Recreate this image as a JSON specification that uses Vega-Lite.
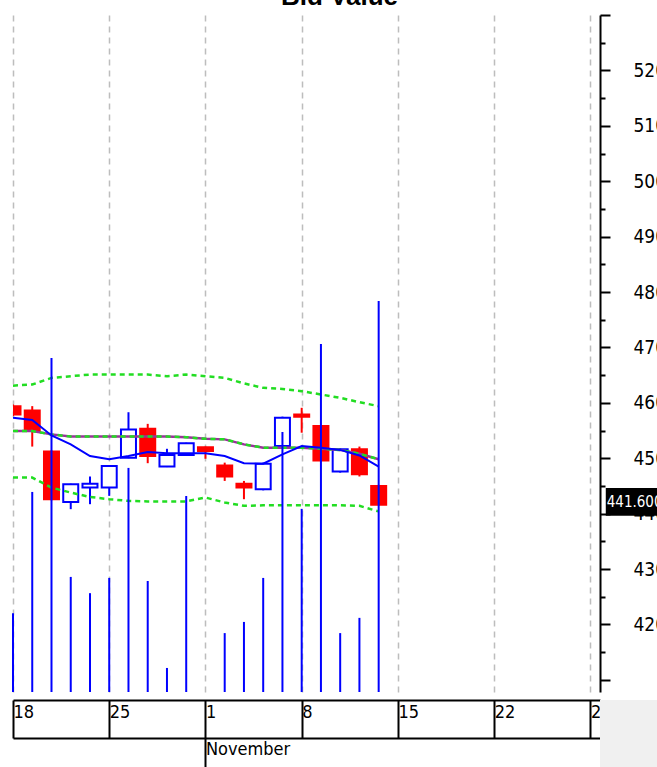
{
  "$schema": "https://vega.github.io/schema/vega-lite/v6.json",
  "autosize": {"type": "none"},
  "padding": {"left": 13, "top": 15, "right": 57, "bottom": 75},
  "width": 587,
  "height": 677,
  "background": "white",
  "title": {"text": "Bid Value", "font": "Liberation Sans", "fontSize": 26, "fontWeight": "bold", "color": "black", "anchor": "middle", "dx": 33, "dy": 25, "offset": 0, "baseline": "alphabetic"},
  "config": {"view": {"stroke": null}},
  "data": {"values": [
    {"t":0,"date":"2010-10-18","open":459.4,"high":459.7,"low":457.6,"close":457.9,"volume":233,"ma":457.3,"mid":454.9,"upper":463.1,"lower":446.5},
    {"t":1,"date":"2010-10-19","open":458.6,"high":459.4,"low":452.1,"close":454.9,"volume":591,"ma":456.9,"mid":454.9,"upper":463.3,"lower":446.5},
    {"t":2,"date":"2010-10-20","open":451.2,"high":451.4,"low":442.4,"close":442.6,"volume":987,"ma":454.1,"mid":454.3,"upper":464.5,"lower":444.7},
    {"t":3,"date":"2010-10-21","open":442.1,"high":445.4,"low":440.8,"close":445.3,"volume":340,"ma":452.5,"mid":453.9,"upper":464.8,"lower":443.8},
    {"t":4,"date":"2010-10-22","open":444.7,"high":446.7,"low":441.7,"close":445.4,"volume":292,"ma":450.4,"mid":453.9,"upper":465.1,"lower":443.0},
    {"t":5,"date":"2010-10-25","open":444.7,"high":448.7,"low":443.2,"close":448.6,"volume":337,"ma":449.8,"mid":453.9,"upper":465.1,"lower":442.6},
    {"t":6,"date":"2010-10-26","open":450.1,"high":458.3,"low":450.0,"close":455.2,"volume":662,"ma":450.4,"mid":453.9,"upper":465.1,"lower":442.3},
    {"t":7,"date":"2010-10-27","open":455.3,"high":456.2,"low":449.1,"close":450.4,"volume":328,"ma":451.1,"mid":453.9,"upper":465.1,"lower":442.2},
    {"t":8,"date":"2010-10-28","open":448.5,"high":451.7,"low":448.4,"close":450.6,"volume":71,"ma":450.9,"mid":453.9,"upper":464.8,"lower":442.2},
    {"t":9,"date":"2010-10-29","open":450.6,"high":452.8,"low":450.4,"close":452.7,"volume":579,"ma":450.9,"mid":453.8,"upper":465.1,"lower":442.2},
    {"t":10,"date":"2010-11-01","open":452.0,"high":452.1,"low":449.9,"close":451.3,"volume":0,"ma":450.9,"mid":453.5,"upper":464.8,"lower":442.9},
    {"t":11,"date":"2010-11-02","open":448.7,"high":449.2,"low":445.9,"close":446.7,"volume":174,"ma":450.4,"mid":453.4,"upper":464.5,"lower":442.0},
    {"t":12,"date":"2010-11-03","open":445.4,"high":445.9,"low":442.6,"close":444.7,"volume":207,"ma":449.1,"mid":452.5,"upper":463.5,"lower":441.4},
    {"t":13,"date":"2010-11-04","open":444.4,"high":449.2,"low":444.2,"close":449.0,"volume":337,"ma":449.0,"mid":451.9,"upper":462.7,"lower":441.5},
    {"t":14,"date":"2010-11-05","open":452.2,"high":457.5,"low":452.0,"close":457.3,"volume":768,"ma":450.7,"mid":451.9,"upper":462.5,"lower":441.5},
    {"t":15,"date":"2010-11-08","open":457.9,"high":459.1,"low":454.6,"close":457.5,"volume":541,"ma":452.2,"mid":451.9,"upper":462.1,"lower":441.5},
    {"t":16,"date":"2010-11-09","open":455.8,"high":456.0,"low":449.4,"close":449.6,"volume":1028,"ma":451.9,"mid":451.7,"upper":461.5,"lower":441.5},
    {"t":17,"date":"2010-11-10","open":447.6,"high":451.8,"low":447.4,"close":451.6,"volume":174,"ma":451.5,"mid":451.5,"upper":460.9,"lower":441.5},
    {"t":18,"date":"2010-11-11","open":451.6,"high":452.1,"low":446.7,"close":447.1,"volume":219,"ma":450.5,"mid":450.8,"upper":460.1,"lower":441.4},
    {"t":19,"date":"2010-11-12","open":445.0,"high":445.2,"low":441.5,"close":441.6,"volume":1155,"ma":448.5,"mid":449.8,"upper":459.4,"lower":440.4}
  ]},
  "layer": [
    {
      "mark": {"type": "rule", "strokeWidth": 2, "clip": true},
      "encoding": {
        "x": {"field": "t", "type": "quantitative",
          "scale": {"domain": [0, 30.5], "nice": false, "zero": false, "padding": 0},
          "axis": {"orient": "bottom", "values": [0, 5, 10, 15, 20, 25, 30],
            "labelExpr": "datum.value == 0 ? '18' : datum.value == 5 ? '25' : datum.value == 10 ? '1' : datum.value == 15 ? '8' : datum.value == 20 ? '15' : datum.value == 25 ? '22' : '29'",
            "title": null, "grid": true, "gridDash": [6, 5], "gridColor": "#bdbdbd", "gridWidth": 1.5,
            "offset": 8, "domain": true, "domainColor": "black", "domainWidth": 2,
            "ticks": true, "tickColor": "black", "tickWidth": 2, "tickSize": 38,
            "labelAlign": "left", "labelBaseline": "top", "labelPadding": -35, "labelDx": 3,
            "labelFlush": false, "labelOverlap": false,
            "labelFont": "DejaVu Sans Condensed, Liberation Sans, sans-serif", "labelFontSize": 18, "labelColor": "black"}},
        "y": {"field": "low", "type": "quantitative",
          "scale": {"domain": [407.8, 530], "nice": false, "zero": false},
          "axis": {"orient": "right", "title": null, "grid": false,
            "values": [410,420,430,440,450,460,470,480,490,500,510,520,530],
            "labelExpr": "(datum.value >= 420 && datum.value <= 520) ? format(datum.value, '.3f') : ''",
            "domainColor": "black", "domainWidth": 2, "tickColor": "black", "tickWidth": 2, "tickSize": 10,
            "labelPadding": 23, "labelAlign": "left", "labelBaseline": "middle", "labelOverlap": false, "labelFlush": false,
            "labelFont": "DejaVu Sans Condensed, Liberation Sans, sans-serif", "labelFontSize": 19, "labelColor": "black"}},
        "y2": {"field": "high"},
        "stroke": {"condition": {"test": "datum.close >= datum.open", "value": "#0000ff"}, "value": "#ff0000"}
      }
    },
    {
      "mark": {"type": "bar", "width": 15, "strokeWidth": 2, "clip": true},
      "encoding": {
        "x": {"field": "t", "type": "quantitative", "axis": null},
        "y": {"field": "open", "type": "quantitative", "scale": {"domain": [407.8, 530], "nice": false, "zero": false},
          "axis": {"orient": "right", "title": null, "grid": false, "domain": false, "labels": false,
            "values": [415,425,435,445,455,465,475,485,495,505,515,525],
            "tickColor": "black", "tickWidth": 2, "tickSize": 5}},
        "y2": {"field": "close"},
        "fill": {"condition": {"test": "datum.close >= datum.open", "value": "#ffffff"}, "value": "#ff0000"},
        "stroke": {"condition": {"test": "datum.close >= datum.open", "value": "#0000ff"}, "value": "#ff0000"}
      }
    },
    {
      "mark": {"type": "line", "stroke": "#22dd22", "strokeWidth": 2.5, "strokeDash": [5, 4], "clip": true},
      "encoding": {
        "x": {"field": "t", "type": "quantitative", "axis": null},
        "y": {"field": "lower", "type": "quantitative", "scale": {"domain": [407.8, 530], "nice": false, "zero": false}, "axis": null}
      }
    },
    {
      "mark": {"type": "line", "stroke": "#22dd22", "strokeWidth": 2.5, "strokeDash": [5, 4], "clip": true},
      "encoding": {
        "x": {"field": "t", "type": "quantitative", "axis": null},
        "y": {"field": "upper", "type": "quantitative", "scale": {"domain": [407.8, 530], "nice": false, "zero": false}, "axis": null}
      }
    },
    {
      "mark": {"type": "line", "stroke": "#993399", "strokeWidth": 2.5, "clip": true},
      "encoding": {
        "x": {"field": "t", "type": "quantitative", "axis": null},
        "y": {"field": "mid", "type": "quantitative", "scale": {"domain": [407.8, 530], "nice": false, "zero": false}, "axis": null}
      }
    },
    {
      "mark": {"type": "line", "stroke": "#22dd22", "strokeWidth": 2.5, "strokeDash": [5, 4], "clip": true},
      "encoding": {
        "x": {"field": "t", "type": "quantitative", "axis": null},
        "y": {"field": "mid", "type": "quantitative", "scale": {"domain": [407.8, 530], "nice": false, "zero": false}, "axis": null}
      }
    },
    {
      "mark": {"type": "line", "stroke": "#0000ff", "strokeWidth": 2, "clip": true},
      "encoding": {
        "x": {"field": "t", "type": "quantitative", "axis": null},
        "y": {"field": "ma", "type": "quantitative", "scale": {"domain": [407.8, 530], "nice": false, "zero": false}, "axis": null}
      }
    },
    {
      "mark": {"type": "rule", "stroke": "#0000ff", "strokeWidth": 2},
      "encoding": {
        "x": {"field": "t", "type": "quantitative",
          "axis": {"orient": "bottom", "values": [10], "labelExpr": "'November'", "title": null, "grid": false,
            "offset": 46, "domain": true, "domainColor": "black", "domainWidth": 2,
            "ticks": true, "tickColor": "black", "tickWidth": 2, "tickSize": 29,
            "labelAlign": "left", "labelBaseline": "top", "labelPadding": -27, "labelDx": 3,
            "labelFlush": false, "labelOverlap": false,
            "labelFont": "DejaVu Sans Condensed, Liberation Sans, sans-serif", "labelFontSize": 18, "labelColor": "black"}},
        "y": {"field": "volume", "type": "quantitative", "scale": {"domain": [0, 2000], "nice": false}, "axis": null},
        "y2": {"datum": 0}
      }
    },
    {
      "transform": [{"filter": "datum.t === 19"}],
      "mark": {"type": "rect", "fill": "black", "clip": false},
      "encoding": {
        "x": {"datum": 30.8, "type": "quantitative", "axis": null},
        "x2": {"datum": 34},
        "y": {"datum": 444.6, "type": "quantitative", "scale": {"domain": [407.8, 530], "nice": false, "zero": false}, "axis": null},
        "y2": {"datum": 439.6}
      }
    },
    {
      "transform": [{"filter": "datum.t === 19"}],
      "mark": {"type": "text", "color": "white", "align": "left", "baseline": "middle", "dy": -3, "font": "DejaVu Sans Condensed, Liberation Sans, sans-serif", "fontSize": 15, "clip": false},
      "encoding": {
        "x": {"datum": 30.85, "type": "quantitative", "axis": null},
        "y": {"field": "close", "type": "quantitative", "scale": {"domain": [407.8, 530], "nice": false, "zero": false}, "axis": null},
        "text": {"field": "close", "format": ".3f"}
      }
    },
    {
      "transform": [{"filter": "datum.t === 19"}],
      "mark": {"type": "rect", "fill": "#f0f0f0", "clip": false},
      "encoding": {
        "x": {"datum": 30.5, "type": "quantitative", "axis": null},
        "x2": {"datum": 36},
        "y": {"datum": 406.35, "type": "quantitative", "scale": {"domain": [407.8, 530], "nice": false, "zero": false}, "axis": null},
        "y2": {"datum": 380}
      }
    }
  ],
  "resolve": {"scale": {"y": "independent"}, "axis": {"x": "independent"}}
}
